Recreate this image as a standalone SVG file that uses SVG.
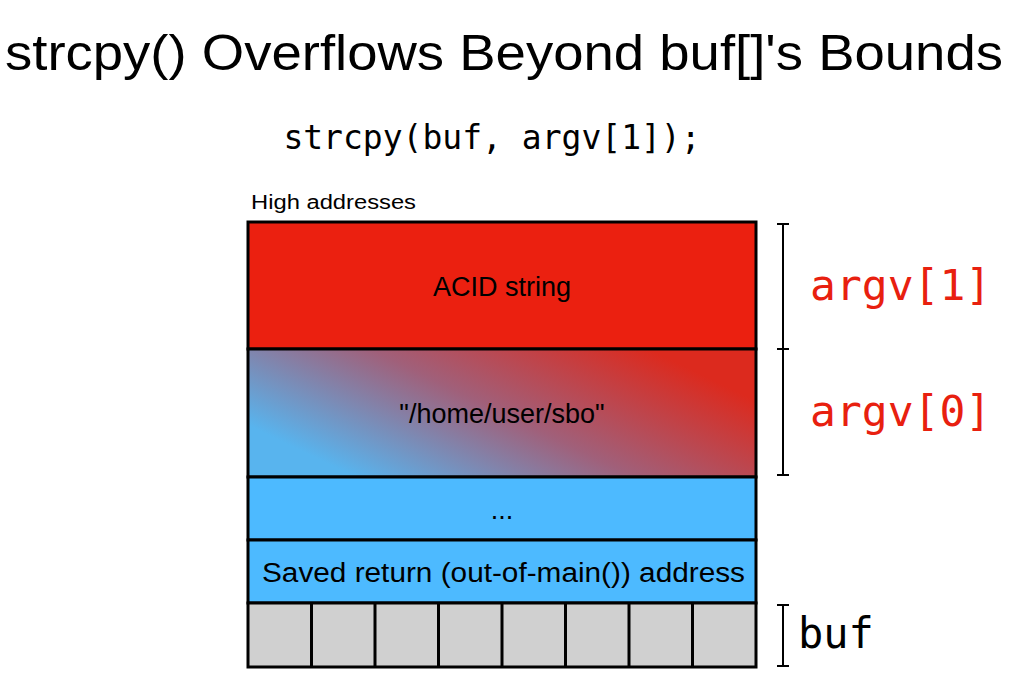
<svg xmlns="http://www.w3.org/2000/svg" width="1009" height="682" viewBox="0 0 1009 682">
<style>
.s{font-family:"Liberation Sans",Arial,sans-serif;fill:#000}
.m{font-family:"DejaVu Sans Mono",monospace}
.box{stroke:#000;stroke-width:3}
.br{stroke:#000;stroke-width:2;fill:none}
</style>
<defs>
<linearGradient id="g" x1="0.02" y1="0.75" x2="0.98" y2="0.25">
<stop offset="0.05" stop-color="#58b4ee"/>
<stop offset="0.5" stop-color="#a0607a"/>
<stop offset="0.95" stop-color="#dc2a1e"/>
</linearGradient>
</defs>
<rect width="1009" height="682" fill="#fff"/>
<text class="s" x="5" y="70" font-size="50" textLength="998" lengthAdjust="spacingAndGlyphs">strcpy() Overflows Beyond buf[]'s Bounds</text>
<text class="m" x="492" y="149" font-size="33" text-anchor="middle">strcpy(buf, argv[1]);</text>
<text class="s" x="251" y="209" font-size="20" textLength="165" lengthAdjust="spacingAndGlyphs">High addresses</text>
<g id="acid"><rect class="box" x="248" y="222" width="508" height="127" fill="#eb2010"/><text class="s" x="502" y="296" font-size="27" text-anchor="middle">ACID string</text></g>
<g id="argv0str"><rect class="box" x="248" y="349" width="508" height="128" fill="url(#g)"/><text class="s" x="502" y="423" font-size="27" text-anchor="middle">"/home/user/sbo"</text></g>
<g id="dots"><rect class="box" x="248" y="477" width="508" height="63" fill="#4dbaff"/><text class="s" x="502" y="519" font-size="27" text-anchor="middle">...</text></g>
<g id="ret"><rect class="box" x="248" y="540" width="508" height="63" fill="#4dbaff"/><text class="s" x="262" y="582" font-size="27" textLength="483" lengthAdjust="spacingAndGlyphs">Saved return (out-of-main()) address</text></g>
<g id="buf"><rect class="box" x="248" y="603" width="508" height="64" fill="#d0d0d0"/>
<path class="box" d="M311.5 603V667M375 603V667M438.5 603V667M502 603V667M565.5 603V667M629 603V667M692.5 603V667"/></g>
<g id="brackets">
<path class="br" d="M777 224H789M783 224V349M777 349H789M783 349V475M777 475H789"/>
<path class="br" d="M777 605H789M783 605V666M777 666H789"/>
</g>
<text class="m" x="810" y="300" font-size="43" fill="#e8200f">argv[1]</text>
<text class="m" x="810" y="426" font-size="43" fill="#e8200f">argv[0]</text>
<text class="m" x="798" y="648" font-size="42">buf</text>
</svg>
